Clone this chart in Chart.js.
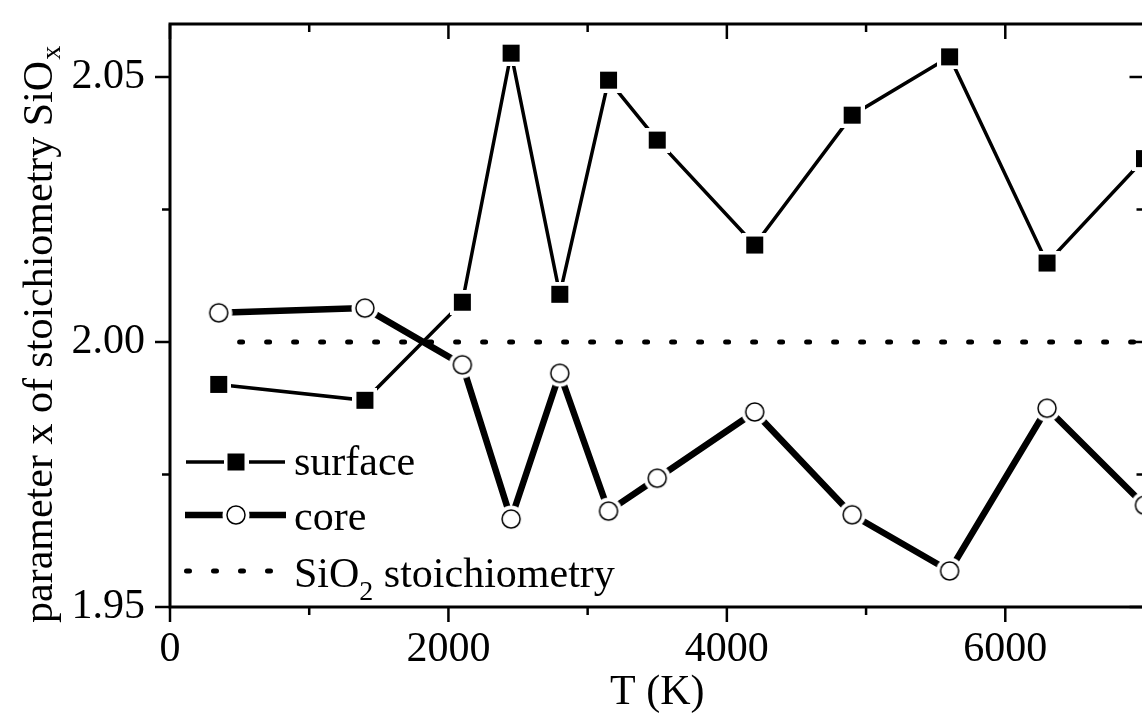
<!DOCTYPE html>
<html>
<head>
<meta charset="utf-8">
<script src="https://cdn.jsdelivr.net/npm/chart.js@4"></script>
<style>
  html, body { margin: 0; padding: 0; background: #fff; overflow: hidden; }
  #wrap { width: 1160px; height: 713px; }
</style>
</head>
<body>
<div id="wrap"><canvas id="myChart"></canvas></div>
<script>
// data
var temps = [350, 1400, 2100, 2450, 2800, 3150, 3500, 4200, 4900, 5600, 6300, 7000];
var surface = [1.992, 1.989, 2.0075, 2.0545, 2.009, 2.0494, 2.0381, 2.0183, 2.0428, 2.0538, 2.0149, 2.0346];
var core = [2.0055, 2.0064, 1.9957, 1.9666, 1.9941, 1.9681, 1.9743, 1.9868, 1.9674, 1.9568, 1.9875, 1.9692];
var stoichT = [500, 7000];
var stoichX = [2.0, 2.0];

var xMajor = [0, 2000, 4000, 6000];
var xMinor = [1000, 3000, 5000, 7000];
var yMajor = [1.95, 2.0, 2.05];
var yMinor = [1.975, 2.025];

var FONT = '"Liberation Serif", "Times New Roman", serif';

function toPoints(xs, ys) {
  return xs.map(function (v, i) { return { x: v, y: ys[i] }; });
}

// marker images: black symbol with a white margin so the line stops short of it
function squareMarker() {
  var c = document.createElement("canvas");
  c.width = 25; c.height = 25;
  var g = c.getContext("2d");
  g.fillStyle = "#fff"; g.fillRect(0, 0, 25, 25);
  g.fillStyle = "#000"; g.fillRect(4, 4, 17, 17);
  return c;
}
function circleMarker() {
  var c = document.createElement("canvas");
  c.width = 28; c.height = 28;
  var g = c.getContext("2d");
  g.fillStyle = "#fff";
  g.beginPath(); g.arc(14, 14, 13.5, 0, Math.PI * 2); g.fill();
  g.strokeStyle = "#000"; g.lineWidth = 1.5;
  g.beginPath(); g.arc(14, 14, 9, 0, Math.PI * 2); g.fill(); g.stroke();
  return c;
}
var sqImg = squareMarker();
var ciImg = circleMarker();

// frame with inward/outward ticks
var framePlugin = {
  id: "frame",
  afterDraw: function (chart) {
    var ctx = chart.ctx, a = chart.chartArea, xs = chart.scales.x, ys = chart.scales.y;
    ctx.save();
    ctx.strokeStyle = "#000";
    ctx.lineWidth = 3;
    ctx.strokeRect(a.left, a.top, a.right - a.left, a.bottom - a.top);
    ctx.lineWidth = 2.5;
    function seg(x1, y1, x2, y2) { ctx.beginPath(); ctx.moveTo(x1, y1); ctx.lineTo(x2, y2); ctx.stroke(); }
    function xt(v, len) {
      var p = xs.getPixelForValue(v);
      seg(p, a.bottom, p, a.bottom + len);
      seg(p, a.top, p, a.top + len);
    }
    function yt(v, len) {
      var p = ys.getPixelForValue(v);
      seg(a.left - len, p, a.left, p);
      seg(a.right - len, p, a.right, p);
    }
    xMajor.forEach(function (v) { xt(v, 15); });
    xMinor.forEach(function (v) { xt(v, 8); });
    yMajor.forEach(function (v) { yt(v, 15); });
    yMinor.forEach(function (v) { yt(v, 8); });
    ctx.restore();
  }
};

// legend and y title with subscripts
var textPlugin = {
  id: "texts",
  afterDraw: function (chart) {
    var ctx = chart.ctx;
    ctx.save();
    ctx.strokeStyle = "#000";
    ctx.fillStyle = "#000";
    ctx.lineCap = "butt";

    // surface
    ctx.lineWidth = 3.5;
    ctx.beginPath(); ctx.moveTo(186, 462); ctx.lineTo(285, 462); ctx.stroke();
    ctx.drawImage(sqImg, 236 - 12.5, 462 - 12.5);
    // core
    ctx.lineWidth = 6.5;
    ctx.beginPath(); ctx.moveTo(185, 515); ctx.lineTo(286, 515); ctx.stroke();
    ctx.drawImage(ciImg, 236 - 14, 515 - 14);
    // stoichiometry
    ctx.lineWidth = 5; ctx.lineCap = "round";
    ctx.setLineDash([3, 24]);
    ctx.beginPath(); ctx.moveTo(186.5, 571); ctx.lineTo(275, 571); ctx.stroke();
    ctx.setLineDash([]);

    ctx.font = "42px " + FONT;
    ctx.textBaseline = "alphabetic";
    ctx.textAlign = "left";
    ctx.fillText("surface", 294, 475);
    ctx.fillText("core", 294, 530);
    ctx.fillText("SiO", 294, 587);
    var w = ctx.measureText("SiO").width;
    ctx.font = "28px " + FONT;
    ctx.fillText("2", 294 + w, 600);
    var w2 = ctx.measureText("2").width;
    ctx.font = "42px " + FONT;
    ctx.fillText(" stoichiometry", 294 + w + w2, 587);

    // y title, rotated
    ctx.translate(52, 623);
    ctx.rotate(-Math.PI / 2);
    var t = "parameter x of stoichiometry SiO";
    ctx.fillText(t, 0, 0);
    var tw = ctx.measureText(t).width;
    ctx.font = "28px " + FONT;
    ctx.fillText("x", tw + 1, 8);
    ctx.restore();
  }
};

var ctx = document.getElementById("myChart").getContext("2d");
Chart.defaults.font.family = FONT;
Chart.defaults.color = "#000";

var myChart = new Chart(ctx, {
  type: "line",
  data: {
    datasets: [
      {
        label: "surface",
        data: toPoints(temps, surface),
        borderColor: "#000",
        borderWidth: 3.5,
        pointStyle: sqImg,
        pointRadius: 9,
        pointHoverRadius: 9,
        order: 1,
      },
      {
        label: "core",
        data: toPoints(temps, core),
        borderColor: "#000",
        borderWidth: 6.5,
        pointStyle: ciImg,
        pointRadius: 9,
        pointHoverRadius: 9,
        order: 2,
      },
      {
        label: "SiO2 stoichiometry",
        data: toPoints(stoichT, stoichX),
        borderColor: "#000",
        borderWidth: 5,
        borderDash: [3, 24],
        borderCapStyle: "round",
        pointRadius: 0,
        order: 3,
      },
    ],
  },
  options: {
    responsive: true,
    maintainAspectRatio: false,
    animation: false,
    layout: { padding: { top: 24, right: 10, left: 0, bottom: 0 } },
    scales: {
      x: {
        type: "linear",
        min: 0,
        max: 7000,
        grid: { display: false, drawTicks: false },
        border: { display: false },
        afterBuildTicks: function (s) { s.ticks = xMajor.map(function (v) { return { value: v }; }); },
        afterFit: function (s) { s.height = 106; s.paddingLeft = 0; s.paddingRight = 0; },
        ticks: {
          padding: 18,
          font: { size: 42 },
          callback: function (v) { return String(v); },
        },
        title: {
          display: true,
          text: "T (K)",
          font: { size: 42, lineHeight: 0.95 },
          padding: { top: 0, bottom: 0 },
        },
      },
      y: {
        min: 1.95,
        max: 2.06,
        grid: { display: false, drawTicks: false },
        border: { display: false },
        afterBuildTicks: function (s) { s.ticks = yMajor.map(function (v) { return { value: v }; }); },
        afterFit: function (s) { s.width = 170; s.paddingTop = 0; s.paddingBottom = 0; },
        ticks: {
          padding: 25,
          font: { size: 42 },
          callback: function (v) { return Number(v).toFixed(2); },
        },
      },
    },
    plugins: {
      legend: { display: false },
      tooltip: { enabled: false },
    },
  },
  plugins: [framePlugin, textPlugin],
});
</script>
</body>
</html>
